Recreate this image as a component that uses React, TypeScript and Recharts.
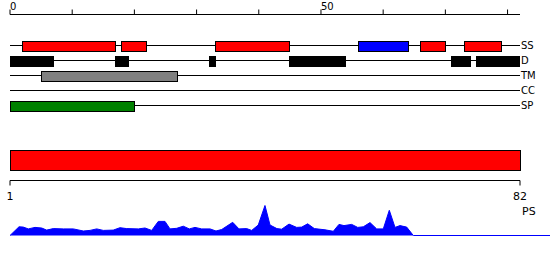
import React from 'react';
import { ComposedChart, BarChart, Bar, XAxis, YAxis, CartesianGrid, Cell, AreaChart, Area } from 'recharts';

// ---- data ----
const tracks = ['SS', 'D', 'TM', 'CC', 'SP'];
const ssSegments: [number, number][] = [[2, 17], [18, 22], [33, 45], [56, 64], [66, 70], [73, 79]];
const ssColors = ['#ff0000', '#ff0000', '#ff0000', '#0000ff', '#ff0000', '#ff0000'];
const dSegments: [number, number][] = [[0, 7], [17, 19], [32, 33], [45, 54], [71, 74], [75, 82]];
const tmSegments: [number, number][] = [[5, 27]];
const ccSegments: [number, number][] = [];
const spSegments: [number, number][] = [[0, 20]];
const dColor = '#000000';
const tmColor = '#808080';
const spColor = '#008000';

const proteinLength = 82;
const topTicks = [0, 10, 20, 30, 40, 50, 60, 70, 80];
const topTickLabels = [0, 50];

const domainRange: [number, number] = [1, 82];
const domainColor = '#ff0000';
const bottomTicks = [1, 82];

const psPositions = [0, 1.45, 2.14, 2.95, 4.03, 5.11, 5.91, 6.98, 8.59, 10.2, 11.81, 12.89, 13.97, 15.03, 16.64, 17.72, 18.8, 20.67, 21.75, 22.83, 23.89, 24.97, 25.78, 26.86, 27.92, 28.89, 29.81, 30.88, 32.22, 33.19, 34.11, 35.88, 36.89, 38.13, 38.94, 40.0, 41.08, 41.89, 43.0, 43.77, 44.95, 46.19, 47.0, 47.96, 49.03, 50.75, 52.09, 53.0, 53.81, 55.05, 56.02, 56.92, 58.0, 59.08, 60.14, 61.11, 62.03, 62.83, 63.91, 64.98, 87];
const psScores = [0, 0.29, 0.28, 0.22, 0.27, 0.25, 0.18, 0.23, 0.22, 0.22, 0.15, 0.17, 0.22, 0.17, 0.18, 0.26, 0.23, 0.22, 0.25, 0.17, 0.47, 0.47, 0.22, 0.24, 0.31, 0.22, 0.27, 0.22, 0.22, 0.15, 0.2, 0.44, 0.22, 0.23, 0.17, 0.35, 1.0, 0.35, 0.23, 0.21, 0.38, 0.27, 0.28, 0.39, 0.23, 0.19, 0.14, 0.37, 0.33, 0.37, 0.27, 0.29, 0.43, 0.22, 0.22, 0.84, 0.27, 0.33, 0.28, 0, 0];
const psColor = '#0000ff';

// ---- build tables ----
const trackSegments: Record<string, [number, number][]> = {
  SS: ssSegments, D: dSegments, TM: tmSegments, CC: ccSegments, SP: spSegments,
};
const trackColorFor = (track: string, k: number) => {
  if (track === 'SS') return ssColors[k];
  if (track === 'D') return dColor;
  if (track === 'TM') return tmColor;
  return spColor;
};
const maxSegs = Math.max(...tracks.map((t) => trackSegments[t].length));
const trackRows = tracks.map((t) => {
  const row: any = { track: t };
  trackSegments[t].forEach((seg, k) => {
    row[`s${k}`] = seg;
    row[`c${k}`] = trackColorFor(t, k);
  });
  return row;
});
const segKeys = Array.from({ length: maxSegs }, (_, k) => k);

const domainRows = [{ name: 'domain', range: domainRange }];
const psData = psPositions.map((p, i) => ({ pos: p, score: psScores[i] }));

const FONT = 'DejaVu Sans, sans-serif';

const SnapRect = (props: any) => {
  const { x, y, width, height, fill } = props;
  if (x == null || width == null || !isFinite(width) || width <= 0) return <g />;
  const left = Math.floor(x);
  const right = Math.floor(x + width);
  const top = Math.floor(y);
  const bottom = Math.floor(y + height);
  return (
    <rect
      x={left + 0.5}
      y={top + 0.5}
      width={right - left}
      height={bottom - top}
      fill={fill}
      stroke="#000"
      strokeWidth={1}
    />
  );
};

const TopTick = (props: any) => {
  const { x, y, payload } = props;
  if (!topTickLabels.includes(payload.value)) return <g />;
  return (
    <text x={x} y={y} textAnchor="start" fontSize={10} fontFamily={FONT} fill="#000">
      {payload.value}
    </text>
  );
};

export default function App() {
  return (
    <div style={{ position: 'absolute', left: 0, top: 0, width: 550, height: 260, background: '#fff' }}>
      <div style={{ position: 'absolute', left: 0, top: 0 }}>
        <ComposedChart
          width={550}
          height={120}
          layout="vertical"
          data={trackRows}
          margin={{ top: 0, right: 0, left: 10, bottom: 7 }}
          barGap={-10}
        >
          <CartesianGrid horizontal vertical={false} horizontalValues={tracks} stroke="#000" strokeDasharray="" />
          <XAxis
            type="number"
            orientation="top"
            domain={[0, proteinLength]}
            ticks={topTicks}
            height={14.5}
            tickSize={5}
            tickMargin={0}
            stroke="#000"
            tick={<TopTick />}
            allowDataOverflow
          />
          <YAxis
            type="category"
            dataKey="track"
            orientation="right"
            width={30}
            axisLine={false}
            tickLine={false}
            tickSize={0}
            tickMargin={1}
            padding={{ top: 23.5, bottom: 0 }}
            tick={{ fontSize: 10, fontFamily: FONT, fill: '#000' }}
            interval={0}
          />
          {segKeys.map((k) => (
            <Bar key={k} dataKey={`s${k}`} barSize={10} stroke="#000" isAnimationActive={false} shape={<SnapRect />}>
              {trackRows.map((r, i) => (
                <Cell key={i} fill={r[`c${k}`] || '#000'} />
              ))}
            </Bar>
          ))}
        </ComposedChart>
      </div>
      <div style={{ position: 'absolute', left: 0, top: 0 }}>
        <BarChart
          width={550}
          height={260}
          layout="vertical"
          data={domainRows}
          margin={{ top: 140.5, right: 30, left: 10, bottom: 18.5 }}
        >
          <XAxis
            type="number"
            domain={domainRange}
            ticks={bottomTicks}
            height={61}
            tickSize={5}
            tickMargin={7}
            stroke="#000"
            tick={{ fontSize: 11, fontFamily: FONT, fill: '#000' }}
            label={{ value: 'PS', position: 'right', offset: 2, fontSize: 11, fontFamily: FONT, fill: '#000' }}
          />
          <YAxis type="category" dataKey="name" hide />
          <Bar dataKey="range" barSize={20} fill={domainColor} stroke="#000" isAnimationActive={false} shape={<SnapRect />} />
        </BarChart>
      </div>
      <div style={{ position: 'absolute', left: 0, top: 0 }}>
        <AreaChart
          width={550}
          height={260}
          data={psData}
          margin={{ top: 205.5, right: 0, left: 10, bottom: 24.5 }}
        >
          <XAxis type="number" dataKey="pos" domain={[0, 87]} hide />
          <YAxis type="number" domain={[0, 1]} hide />
          <Area type="linear" dataKey="score" stroke={psColor} strokeWidth={1} fill={psColor} fillOpacity={1} isAnimationActive={false} />
        </AreaChart>
      </div>
    </div>
  );
}
